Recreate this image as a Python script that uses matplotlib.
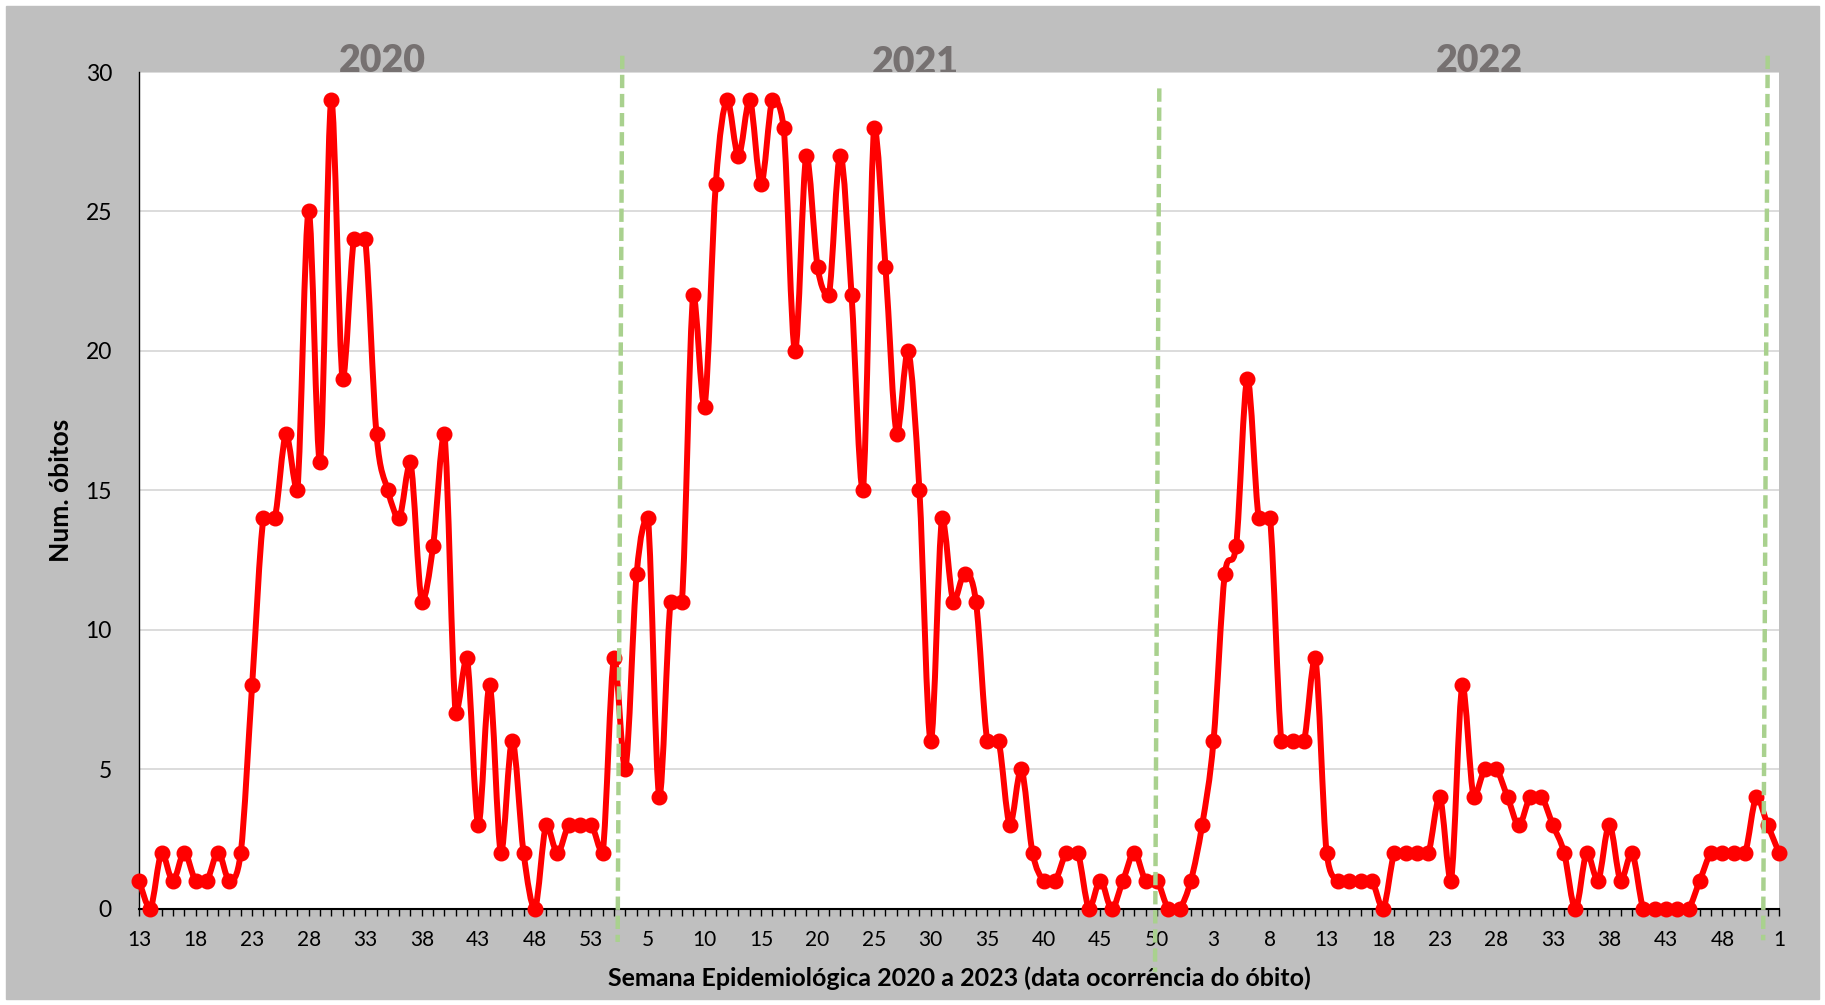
import numpy as np
import matplotlib
matplotlib.use('Agg')
import matplotlib.pyplot as plt
from matplotlib.path import Path
from matplotlib.patches import PathPatch, Rectangle

plt.rcParams['font.family'] = ['Lato', 'DejaVu Sans']

# weekly deaths (epidemiological week of death)
deaths_2020 = [1, 0, 2, 1, 2, 1, 1, 2, 1, 2, 8, 14, 14, 17, 15, 25, 16, 29, 19, 24,
               24, 17, 15, 14, 16, 11, 13, 17, 7, 9, 3, 8, 2, 6, 2, 0, 3, 2, 3, 3, 3]
deaths_2021 = [2, 9, 5, 12, 14, 4, 11, 11, 22, 18, 26, 29, 27, 29, 26, 29, 28, 20, 27, 23,
               22, 27, 22, 15, 28, 23, 17, 20, 15, 6, 14, 11, 12, 11, 6, 6, 3, 5, 2, 1,
               1, 2, 2, 0, 1, 0, 1, 2, 1, 1, 0, 0]
deaths_2022 = [1, 3, 6, 12, 13, 19, 14, 14, 6, 6, 6, 9, 2, 1, 1, 1, 1, 0, 2, 2,
               2, 2, 4, 1, 8, 4, 5, 5, 4, 3, 4, 4, 3, 2, 0, 2, 1, 3, 1, 2,
               0, 0, 0, 0, 0, 1, 2, 2, 2, 2, 4, 3]
deaths_2023 = [2]

weeks_2020 = list(range(13, 54))
weeks_2021 = list(range(1, 53))
weeks_2022 = list(range(1, 53))
weeks_2023 = [1]

year_labels = ['2020', '2021', '2022']

deaths = deaths_2020 + deaths_2021 + deaths_2022 + deaths_2023
weeks = weeks_2020 + weeks_2021 + weeks_2022 + weeks_2023
x = np.arange(len(deaths))

# year separators drawn by hand in the original (slightly slanted)
# (x top, x bottom, y top, y bottom) in week index / axes fraction
separators = [(42.73, 42.32, 1.0195, -0.040),
              (90.21, 89.83, 0.9804, -0.076),
              (144.0, 143.6, 1.0195, -0.038)]
year_pos = [(21.5, 1.0135), (68.6, 1.0110), (118.5, 1.0135)]


def smooth_path(xs, ys):
    """Bezier path through the points, like Excel's smoothed line (no overshoot)."""
    pts = np.column_stack([xs, ys]).astype(float)
    n = len(pts)
    verts = [pts[0]]
    codes = [Path.MOVETO]
    for i in range(n - 1):
        p0 = pts[max(i - 1, 0)]
        p1 = pts[i]
        p2 = pts[i + 1]
        p3 = pts[min(i + 2, n - 1)]
        c1 = p1 + (p2 - p0) / 6
        c2 = p2 - (p3 - p1) / 6
        lo, hi = min(p1[1], p2[1]), max(p1[1], p2[1])
        c1[1] = np.clip(c1[1], lo, hi)
        c2[1] = np.clip(c2[1], lo, hi)
        verts += [c1, c2, p2]
        codes += [Path.CURVE4] * 3
    return Path(verts, codes)


W, H = 1825, 1005
fig = plt.figure(figsize=(W / 100, H / 100), dpi=100, facecolor='white')
fig.patches.append(Rectangle((6 / W, 6 / H), 1 - 12 / W, 1 - 12 / H,
                             transform=fig.transFigure, color='#BFBFBF', zorder=-10))

ax = fig.add_axes([139 / W, 1 - 908.5 / H, 1640 / W, 836.5 / H])
ax.set_facecolor('white')

ax.add_patch(PathPatch(smooth_path(x, deaths), facecolor='none', edgecolor='#FF0000',
                       lw=4.3, clip_on=False, zorder=4, joinstyle='round', capstyle='round'))
ax.plot(x, deaths, 'o', color='#FF0000', ms=10.5, clip_on=False, zorder=5)

for xt, xb, yt, yb in separators:
    ax.plot([xt, xb], [yt, yb], color='#A9D18E', lw=3.2, dashes=(3, 1.3),
            transform=ax.get_xaxis_transform(), clip_on=False, zorder=6)

# year titles sit behind the white plot area, as in the original
for (xp, yp), lab in zip(year_pos, year_labels):
    fig.text(xp, yp, lab, transform=ax.get_xaxis_transform(), ha='center', va='center',
             fontsize=27, fontweight='heavy', color='#767171', zorder=-1)

ax.set_xlim(0, len(deaths) - 1)
ax.set_ylim(0, 30)
ax.set_yticks(np.arange(0, 31, 5))
ax.set_xticks(x[::5])
ax.set_xticklabels([str(w) for w in weeks[::5]])
ax.set_xticks(x, minor=True)

ax.tick_params(axis='x', which='both', direction='out', length=4.8, width=1,
               color='black', labelsize=15, pad=10.5)
ax.tick_params(axis='y', length=0, labelsize=16.5, pad=19.5)

ax.grid(axis='y', color='#D9D9D9', lw=1.3)
ax.set_axisbelow(True)
for side in ['top', 'right']:
    ax.spines[side].set_visible(False)
ax.spines['left'].set_linewidth(1)
ax.spines['bottom'].set_linewidth(1.5)

ax.set_ylabel('Num. óbitos', fontsize=19, fontweight='bold', va='center')
ax.yaxis.set_label_coords(-0.0477, 0.5)
ax.set_xlabel('Semana Epidemiológica 2020 a 2023 (data ocorrência do óbito)',
              fontsize=18, fontweight='bold', va='center')
ax.xaxis.set_label_coords(0.5, -0.0831)

plt.savefig('out.png', dpi=100, facecolor=fig.get_facecolor())
